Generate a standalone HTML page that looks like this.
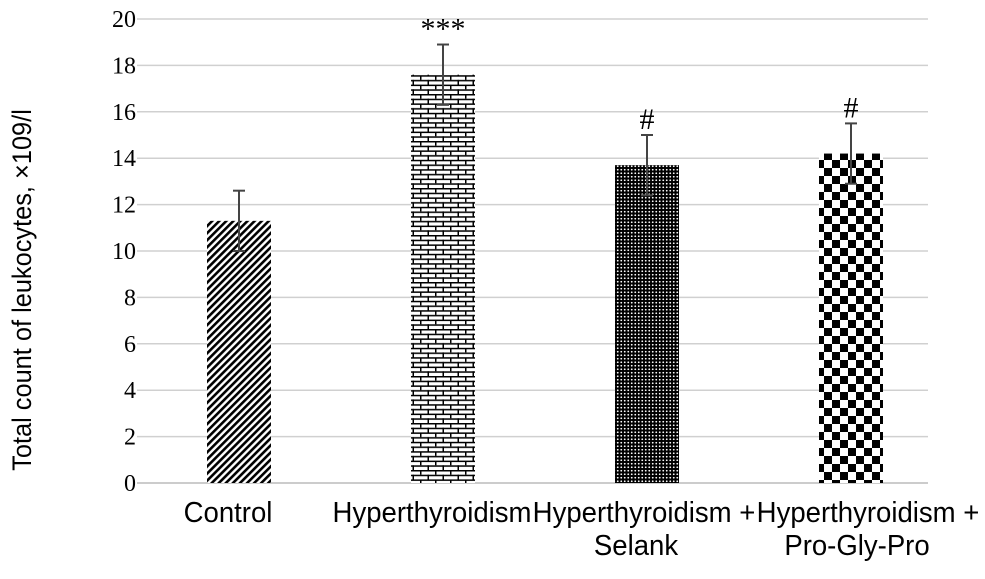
<!DOCTYPE html>
<html><head><meta charset="utf-8"><style>
body{margin:0;background:#fff;}
svg text{fill:#000;}
.tick{font-family:"Liberation Serif",serif;font-size:24px;}
.xl{font-family:"Liberation Sans Narrow","Liberation Sans",sans-serif;font-size:27px;}
.xc{font-family:"Liberation Sans Narrow","Liberation Sans",sans-serif;font-size:29px;}
</style></head><body>
<svg id="chart" width="985" height="574" viewBox="0 0 985 574" xmlns="http://www.w3.org/2000/svg">
<defs>
<pattern id="p-diag" width="5" height="5" patternUnits="userSpaceOnUse" patternTransform="rotate(45)">
<rect width="5" height="5" fill="#fff"/><rect width="2.6" height="5" fill="#000"/></pattern>
<pattern id="p-brick" width="15" height="9.4" patternUnits="userSpaceOnUse">
<rect width="15" height="9.4" fill="#fff"/>
<rect y="0" width="15" height="1.5" fill="#000"/><rect y="4.7" width="15" height="1.5" fill="#000"/>
<rect x="0" y="0" width="1.5" height="4.7" fill="#000"/><rect x="7.5" y="4.7" width="1.5" height="4.7" fill="#000"/></pattern>
<pattern id="p-dots" width="3.5" height="3.5" patternUnits="userSpaceOnUse">
<rect width="3.5" height="3.5" fill="#000"/><circle cx="1.75" cy="1.75" r="0.9" fill="#fff"/></pattern>
<pattern id="p-check" width="16" height="16" patternUnits="userSpaceOnUse">
<rect width="16" height="16" fill="#fff"/><rect width="8" height="8" fill="#000"/><rect x="8" y="8" width="8" height="8" fill="#000"/></pattern>
</defs>
<g id="grid"></g><g id="bars"></g><g id="labels"></g>
<text class="xl" transform="translate(31,290) rotate(-90) scale(0.94,1)" text-anchor="middle">Total count of leukocytes, ×109/l</text>
</svg>
<script>
const categories=[["Control"],["Hyperthyroidism"],["Hyperthyroidism +","Selank"],["Hyperthyroidism +","Pro-Gly-Pro"]];
const values=[11.3,17.6,13.7,14.2];
const errors=[1.3,1.3,1.3,1.3];
const marks=["","***","#","#"];
const patterns=["p-diag","p-brick","p-dots","p-check"];
const yTicks=[0,2,4,6,8,10,12,14,16,18,20];
const NS="http://www.w3.org/2000/svg";
const x0=137,x1=928,y0=483,y20=19;
const y=v=>y0-(v/20)*(y0-y20);
const bw=204;
const cx=i=>x0+bw*(i+0.5);
const labelShift=[[-11],[-11],[-3,-11],[17,6]];
function mk(t,a,p){const e=document.createElementNS(NS,t);for(const k in a)e.setAttribute(k,a[k]);p.appendChild(e);return e;}
const g=document.getElementById('grid'),b=document.getElementById('bars'),l=document.getElementById('labels');
yTicks.forEach(v=>{
 const ln=mk('line',{x1:x0,x2:x1,y1:y(v),y2:y(v),stroke:v===0?'#bbb':'#d0d0d0','stroke-width':1.5},g);
 
 
 const t=mk('text',{x:136,y:y(v)+8,'text-anchor':'end',class:'tick'},g);t.textContent=v;
 
 
});
values.forEach((v,i)=>{
 const c=cx(i);
 const r=mk('rect',{x:c-32,y:y(v),width:64,height:y(0)-y(v),fill:'url(#'+patterns[i]+')'},b);
 
 
 const eg=mk('g',{stroke:'#444','stroke-width':2},b);
 
 
 mk('line',{x1:c,x2:c,y1:y(v+errors[i]),y2:y(v-errors[i])},eg);
 mk('line',{x1:c-6,x2:c+6,y1:y(v+errors[i]),y2:y(v+errors[i])},eg);
 mk('line',{x1:c-6,x2:c+6,y1:y(v-errors[i]),y2:y(v-errors[i])},eg);
 if(marks[i]){const t=mk('text',{x:c,y:y(v+errors[i])-6,'text-anchor':'middle',class:'tick',style:'font-size:30px'},l);t.textContent=marks[i];
 
 }
 categories[i].forEach((s,j)=>{const t=mk('text',{'text-anchor':'middle',class:'xc',transform:'translate('+(c+labelShift[i][j])+','+(522+j*33)+') scale(0.95,1)'},l);t.textContent=s;
 
 });
});
</script>
</body></html>
